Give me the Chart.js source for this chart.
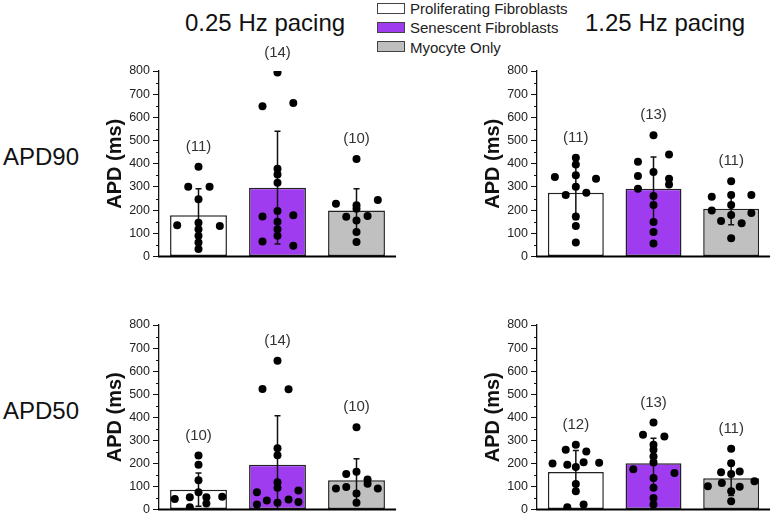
<!DOCTYPE html>
<html>
<head>
<meta charset="utf-8">
<script src="https://cdn.jsdelivr.net/npm/chart.js@4.4.0/dist/chart.umd.min.js"></script>
<style>
  body { margin: 0; width: 774px; height: 514px; overflow: hidden; background: #fff; position: relative;
         font-family: 'Liberation Sans', Arial, sans-serif; color: #111; }
  .t { position: absolute; white-space: nowrap; line-height: 1; }
  .big { font-size: 24px; }
  .leg { font-size: 15px; color: #222; }
  .sw { position: absolute; width: 26px; height: 9px; border: 1.5px solid #444; }
  canvas { position: absolute; }
</style>
</head>
<body>
<div class="t big" style="left:185px; top:11px;">0.25 Hz pacing</div>
<div class="t big" style="left:585px; top:11px;">1.25 Hz pacing</div>
<div class="t big" style="left:3px; top:145px;">APD90</div>
<div class="t big" style="left:3px; top:399px;">APD50</div>

<div class="sw" style="left:377px; top:3px; background:#fff;"></div>
<div class="t leg" style="left:410px; top:1px;">Proliferating Fibroblasts</div>
<div class="sw" style="left:377px; top:22px; background:#a03cf0;"></div>
<div class="t leg" style="left:410px; top:20px;">Senescent Fibroblasts</div>
<div class="sw" style="left:377px; top:41px; background:#bebebe;"></div>
<div class="t leg" style="left:410px; top:40px;">Myocyte Only</div>

<canvas id="c1" width="305" height="227" style="left:95px; top:40px;"></canvas>
<canvas id="c2" width="301" height="227" style="left:473px; top:40px;"></canvas>
<canvas id="c3" width="305" height="226" style="left:95px; top:294px;"></canvas>
<canvas id="c4" width="301" height="226" style="left:473px; top:294px;"></canvas>

<script>
const groups = ['Proliferating Fibroblasts', 'Senescent Fibroblasts', 'Myocyte Only'];
const barColors = ['#ffffff', '#a03cf0', '#c0c0c0'];

// APD90, 0.25 Hz
const a90slowMean = [178, 297, 198];
const a90slowSd = [114, 243, 94];
const a90slowProlif = [387, 301, 301, 247, 146, 135, 132, 118, 89, 60, 32];
const a90slowProlifJit = [0, -0.13, 0.14, 0, 0, -0.27, 0.27, 0, 0, 0, 0];
const a90slowSenes = [794, 648, 662, 378, 354, 318, 196, 172, 178, 150, 118, 89, 65, 46];
const a90slowSenesJit = [0, -0.19, 0.2, 0, 0, 0, 0, -0.19, 0.2, 0, 0, 0, -0.19, 0.2];
const a90slowMyo = [420, 227, 221, 244, 206, 171, 175, 155, 106, 62];
const a90slowMyoJit = [0, -0.26, 0, 0.27, 0, -0.13, 0.14, 0, 0, 0];

// APD90, 1.25 Hz
const a90fastMean = [275, 292, 206];
const a90fastSd = [115, 137, 69];
const a90fastProlif = [426, 397, 350, 343, 335, 301, 265, 275, 172, 132, 60];
const a90fastProlifJit = [0, 0, 0, -0.27, 0.26, 0, -0.13, 0.135, 0, 0, 0];
const a90fastSenes = [523, 409, 440, 347, 364, 335, 311, 292, 261, 222, 149, 106, 56];
const a90fastSenesJit = [0, -0.2, 0.2, -0.2, 0, 0.2, 0.2, -0.2, 0, 0, 0, 0, 0];
const a90fastMyo = [325, 258, 265, 265, 222, 198, 188, 179, 153, 143, 79];
const a90fastMyoJit = [0, -0.25, 0, 0.26, 0, -0.25, 0.26, 0, -0.13, 0.135, 0];

// APD50, 0.25 Hz
const a50slowMean = [86, 194, 127];
const a50slowSd = [72, 212, 93];
const a50slowProlif = [234, 194, 127, 75, 46, 53, 53, 55, 26, 10];
const a50slowProlifJit = [0, 0, 0, 0, -0.3, -0.11, 0.1, 0.3, 0.1, -0.11];
const a50slowSenes = [645, 522, 521, 266, 235, 118, 94, 75, 82, 22, 39, 29, 43, 33];
const a50slowSenesJit = [0, -0.19, 0.14, 0, 0, 0, 0, -0.26, 0.265, -0.26, -0.135, 0, 0.14, 0.265];
const a50slowMyo = [357, 154, 164, 130, 112, 91, 98, 91, 69, 29];
const a50slowMyoJit = [0, -0.13, 0, 0.14, 0.14, -0.26, -0.13, 0.27, 0, 0];

// APD50, 1.25 Hz
const a50fastMean = [163, 201, 135];
const a50fastSd = [93, 108, 74];
const a50fastProlif = [281, 259, 252, 199, 194, 184, 205, 203, 111, 79, 22, 10];
const a50fastProlifJit = [0, -0.13, 0.135, -0.3, -0.11, 0, 0.1, 0.3, 0, 0, 0.1, -0.11];
const a50fastSenes = [377, 324, 317, 281, 259, 230, 204, 175, 158, 137, 94, 50, 22];
const a50fastSenesJit = [0, -0.135, 0.14, 0, 0, 0, 0, -0.26, 0.27, 0, 0, 0, 0];
const a50fastMyo = [263, 201, 161, 165, 154, 115, 122, 101, 99, 79, 36];
const a50fastMyoJit = [0, 0, -0.13, 0.11, 0, -0.12, 0.3, -0.3, 0.11, 0, 0];

function makeChart(id, mean, sd, vals, jits, padRight) {
  const pts = [];
  vals.forEach((v, g) => v.forEach((y, i) => pts.push({x: g + jits[g][i], y: y})));

  const extras = {
    id: 'extras',
    afterDatasetDraw(chart, args) {
      if (args.meta.type !== 'bar') return;
      const {ctx, scales: {x, y}} = chart;
      ctx.save();
      ctx.strokeStyle = '#111';
      ctx.lineWidth = 1.5;
      mean.forEach((m, i) => {
        const px = x.getPixelForValue(i);
        const top = y.getPixelForValue(m + sd[i]);
        const lo = m - sd[i];
        const bot = y.getPixelForValue(Math.max(0, lo));
        ctx.beginPath();
        ctx.moveTo(px, top); ctx.lineTo(px, bot);
        ctx.moveTo(px - 3, top); ctx.lineTo(px + 3, top);
        if (lo > 0) { ctx.moveTo(px - 3, bot); ctx.lineTo(px + 3, bot); }
        ctx.stroke();
      });
      ctx.restore();
    },
    afterDraw(chart) {
      const ctx = chart.ctx;
      const area = chart.chartArea;
      const y = chart.scales.y;
      const x = chart.scales.x;
      ctx.save();
      // x axis line
      ctx.fillStyle = '#000';
      const by = y.getPixelForValue(0);
      ctx.fillRect(area.left - 1, by - 1, area.right - area.left + 1, 2);
      // minor ticks
      ctx.strokeStyle = '#111';
      ctx.lineWidth = 1;
      for (let v = 50; v < 800; v += 100) {
        const py = Math.round(y.getPixelForValue(v)) + 0.5;
        ctx.beginPath();
        ctx.moveTo(area.left - 3, py); ctx.lineTo(area.left, py);
        ctx.stroke();
      }
      // n labels
      ctx.fillStyle = '#333';
      ctx.font = '15px "Liberation Sans", Arial, sans-serif';
      ctx.textAlign = 'center';
      ctx.textBaseline = 'middle';
      vals.forEach((v, g) => {
        const top = y.getPixelForValue(Math.max(...v));
        ctx.fillText('(' + v.length + ')', x.getPixelForValue(g), top - 20);
      });
      ctx.restore();
    }
  };

  new Chart(document.getElementById(id), {
    type: 'bar',
    data: {
      datasets: [{
        type: 'scatter',
        data: pts,
        pointRadius: 4,
        pointBackgroundColor: '#000',
        pointBorderWidth: 0,
        order: 0
      }, {
        type: 'bar',
        data: mean.map((m, i) => ({x: i, y: m})),
        backgroundColor: barColors,
        borderColor: '#222',
        borderWidth: 1.5,
        borderSkipped: false,
        barPercentage: 0.72,
        categoryPercentage: 1,
        order: 1
      }]
    },
    options: {
      responsive: false,
      animation: false,
      layout: { padding: { top: 31, right: padRight, bottom: 8, left: 0 } },
      plugins: { legend: { display: false }, tooltip: { enabled: false } },
      scales: {
        x: {
          type: 'linear',
          min: -0.5,
          max: 2.5,
          offset: false,
          afterBuildTicks(s) { s.ticks = groups.map((g, i) => ({value: i})); },
          ticks: { display: false },
          grid: { display: false },
          afterFit(s) { s.height = 2; }
        },
        y: {
          min: 0,
          max: 800,
          ticks: { stepSize: 100, color: '#222', padding: 3,
                   font: { family: '"Liberation Sans", Arial, sans-serif', size: 12.5 } },
          grid: { drawOnChartArea: false, drawTicks: true, tickLength: 6, color: '#111' },
          border: { display: true, color: '#111', width: 1.3 },
          title: { display: true, text: 'APD (ms)', color: '#111', padding: { top: 8 },
                   font: { family: '"Liberation Sans", Arial, sans-serif', size: 20, weight: 'bold' } },
          afterFit(s) { s.width = 64; }
        }
      }
    },
    plugins: [extras]
  });
}

makeChart('c1', a90slowMean, a90slowSd, [a90slowProlif, a90slowSenes, a90slowMyo],
          [a90slowProlifJit, a90slowSenesJit, a90slowMyoJit], 3);
makeChart('c2', a90fastMean, a90fastSd, [a90fastProlif, a90fastSenes, a90fastMyo],
          [a90fastProlifJit, a90fastSenesJit, a90fastMyoJit], 2);
makeChart('c3', a50slowMean, a50slowSd, [a50slowProlif, a50slowSenes, a50slowMyo],
          [a50slowProlifJit, a50slowSenesJit, a50slowMyoJit], 3);
makeChart('c4', a50fastMean, a50fastSd, [a50fastProlif, a50fastSenes, a50fastMyo],
          [a50fastProlifJit, a50fastSenesJit, a50fastMyoJit], 2);
</script>
</body>
</html>
